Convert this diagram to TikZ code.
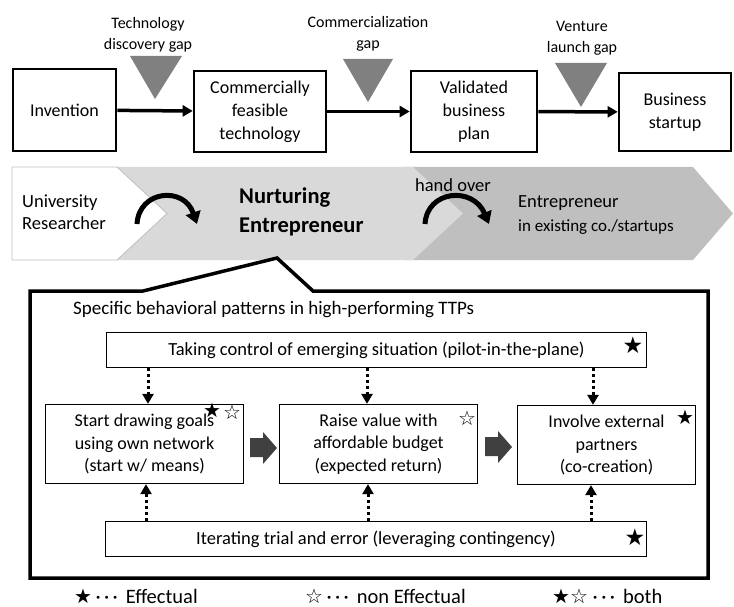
\documentclass[tikz,border=0pt]{standalone}
\usepackage{fontspec}
\setmainfont{Carlito}
\newfontfamily\starfont{DejaVu Sans}
\usetikzlibrary{arrows.meta}
\definecolor{gapgray}{HTML}{808080}
\definecolor{bandlight}{HTML}{D9D9D9}
\definecolor{banddark}{HTML}{BFBFBF}
\definecolor{blockgray}{HTML}{404040}
\begin{document}
\begin{tikzpicture}[x=1pt,y=-1pt,
  toprow/.style={draw, line width=2.6pt, align=center, inner sep=0pt, font=\fontsize{18}{23}\selectfont},
  gaplbl/.style={align=center, inner sep=0pt, font=\fontsize{16}{20.5}\selectfont},
  gaptri/.style={fill=gapgray},
  inbox/.style={draw, line width=1.3pt, align=center, inner sep=0pt, font=\fontsize{18}{22.5}\selectfont},
  widebox/.style={inbox, font=\fontsize{18.5}{22.5}\selectfont},
  flowarrow/.style={line width=3.5pt, -{Triangle[length=10pt,width=11pt]}},
  dotarrow/.style={line width=3pt, dash pattern=on 3pt off 3pt, -{Triangle[length=10pt,width=11pt]}},
  curvearrow/.style={line width=5pt, -{Triangle[length=12pt,width=15pt]}},
  bandtxt/.style={align=left, inner sep=0pt, anchor=west, font=\fontsize{18.5}{22}\selectfont},
  starmark/.style={inner sep=0pt, font=\starfont\fontsize{20}{20}\selectfont},
  bigstar/.style={inner sep=0pt, font=\starfont\fontsize{23}{23}\selectfont},
  legendtxt/.style={inner sep=0pt, anchor=base west, font=\fontsize{20.5}{22}\selectfont},
  blockarrow/.style={fill=blockgray}
]
\useasboundingbox (0,0) rectangle (734,607);
\fill[white] (0,0) rectangle (734,607);

% ---------- top row ----------
\node[gaplbl] (g1) at (148,35) {Technology\\discovery gap};
\node[gaplbl] (g2) at (368,34) {Commercialization\\gap};
\node[gaplbl] (g3) at (582,38) {Venture\\launch gap};
\fill[gaptri] (130,56) -- (182,56) -- (155,99) -- cycle;
\fill[gaptri] (343,59) -- (393,59) -- (368,102) -- cycle;
\fill[gaptri] (555,63) -- (607,63) -- (581,107) -- cycle;

\node[toprow, minimum width=103pt, minimum height=82pt] (inv) at (64.5,110) {Invention};
\node[toprow, minimum width=132pt, minimum height=81pt] (cft) at (260,111.5) {Commercially\\feasible\\technology};
\node[toprow, minimum width=126pt, minimum height=81pt] (vbp) at (474,111.5) {Validated\\business\\plan};
\node[toprow, minimum width=112pt, minimum height=78pt] (bs) at (675,112) {Business\\startup};

\draw[flowarrow] (inv) -- (cft);
\draw[flowarrow] (cft) -- (vbp);
\draw[flowarrow] (vbp) -- (bs);

% ---------- band ----------
\fill[banddark] (405,167) -- (693,167) -- (733,213.5) -- (693,260) -- (405,260) -- cycle;
\fill[bandlight] (117,167) -- (413,167) -- (463,213.5) -- (413,260) -- (117,260) -- cycle;
\filldraw[fill=white, draw=banddark, line width=0.8pt] (12,167) -- (117,167) -- (167,213.5) -- (117,260) -- (12,260) -- cycle;

\node[bandtxt] (ur) at (22,212) {University\\Researcher};
\node[bandtxt, font=\bfseries\fontsize{22.5}{29}\selectfont] (ne) at (239,212) {Nurturing\\Entrepreneur};
\node[inner sep=0pt, font=\fontsize{18.5}{22}\selectfont] (ho) at (453,185) {hand over};
\node[bandtxt] (en) at (518,203) {Entrepreneur};
\node[bandtxt, font=\fontsize{17}{18}\selectfont] (ex) at (518,227) {in existing co./startups};

\draw[curvearrow] (137,224) .. controls (139,190) and (184,186) .. (197,224);
\draw[curvearrow] (425,224) .. controls (427,190) and (473,186) .. (489,224);

% ---------- callout box ----------
\draw[line width=3.5pt, line join=miter] (143,291) -- (277,258) -- (313,291) -- (708,291) -- (708,578) -- (30,578) -- (30,291) -- cycle;

\node[inner sep=0pt, anchor=west, font=\fontsize{19}{22}\selectfont] (title) at (73,310) {Specific behavioral patterns in high-performing TTPs};

\node[widebox, minimum width=540pt, minimum height=35pt] (tc) at (376.5,350) {Taking control of emerging situation (pilot-in-the-plane)};
\node[inbox, minimum width=198pt, minimum height=79pt] (lb) at (144.5,444) {Start drawing goals\\using own network\\(start w/ means)};
\node[inbox, minimum width=198pt, minimum height=79pt] (mb) at (378.5,444) {Raise value with\\affordable budget\\(expected return)};
\node[inbox, minimum width=178pt, minimum height=79pt] (rb) at (606.5,445) {Involve external\\partners\\(co-creation)};
\node[widebox, minimum width=541pt, minimum height=35pt] (bt) at (376,539) {Iterating trial and error (leveraging contingency)};

\coordinate (c1) at (148,0);
\coordinate (c2) at (367,0);
\coordinate (c3) at (593,0);
\coordinate (d1) at (146,0);
\coordinate (d2) at (368,0);
\coordinate (d3) at (591,0);
\draw[dotarrow] (tc.south -| c1) -- (lb.north -| c1);
\draw[dotarrow] (tc.south -| c2) -- (mb.north -| c2);
\draw[dotarrow] (tc.south -| c3) -- (rb.north -| c3);
\draw[dotarrow] (bt.north -| d1) -- (lb.south -| d1);
\draw[dotarrow] (bt.north -| d2) -- (mb.south -| d2);
\draw[dotarrow] (bt.north -| d3) -- (rb.south -| d3);

\fill[blockarrow] (250,438) -- (263,438) -- (263,432) -- (277,448) -- (263,464) -- (263,457) -- (250,457) -- cycle;
\fill[blockarrow] (485,437) -- (498,437) -- (498,431) -- (512,447) -- (498,463) -- (498,456) -- (485,456) -- cycle;

% stars
\node[bigstar] (s1) at (633,345) {★};
\node[starmark] (s2) at (212,410) {★};
\node[starmark] (s3) at (232,412) {☆};
\node[starmark] (s4) at (467,418) {☆};
\node[starmark] (s5) at (685,417) {★};
\node[bigstar] (s6) at (635,537) {★};

% ---------- legend ----------
\node[legendtxt] (l1) at (74,603) {{\starfont\fontsize{20}{20}\selectfont ★}\,·\,·\,·\, Effectual};
\node[legendtxt] (l2) at (305,603) {{\starfont\fontsize{20}{20}\selectfont ☆}\,·\,·\,·\, non Effectual};
\node[legendtxt] (l3) at (552,603) {{\starfont\fontsize{20}{20}\selectfont ★☆} ·\,·\,·\, both};
\end{tikzpicture}
\end{document}
